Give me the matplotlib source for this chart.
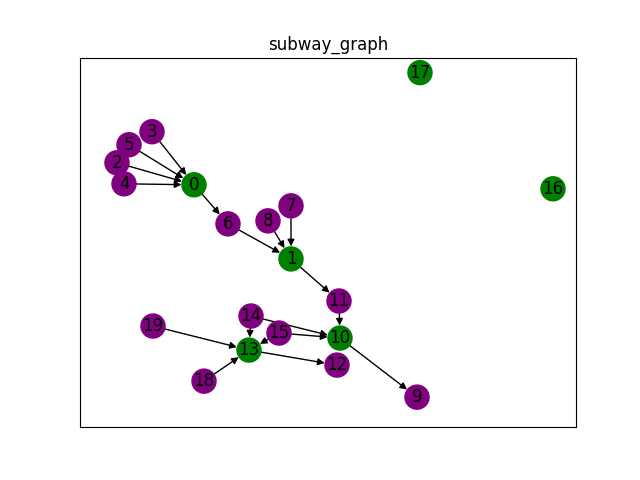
import matplotlib
matplotlib.use('Agg')
import matplotlib.pyplot as plt

# layout of the nodes (x, y)
pos = {
    0: (194, -185), 1: (291, -259), 2: (117, -163), 3: (152, -132),
    4: (124, -184), 5: (129, -145), 6: (228, -224), 7: (291, -206),
    8: (268, -221), 9: (417, -397), 10: (340, -338), 11: (339, -301),
    12: (337, -365), 13: (249, -350), 14: (251, -316), 15: (279, -333),
    16: (553, -189), 17: (420, -73), 18: (204, -381), 19: (153, -326),
}
edges = [(3, 0), (5, 0), (2, 0), (4, 0), (0, 6), (6, 1), (7, 1), (8, 1),
         (1, 11), (11, 10), (10, 9), (14, 10), (15, 10), (14, 13), (15, 13),
         (19, 13), (18, 13), (13, 12)]
stations = [0, 1, 10, 13, 16, 17]

fig, ax = plt.subplots(figsize=(6.4, 4.8), dpi=100)

for u, v in edges:
    ax.annotate("", xy=pos[v], xytext=pos[u],
                arrowprops=dict(arrowstyle="-|>", color="black", lw=1,
                                mutation_scale=10, shrinkA=9, shrinkB=9),
                zorder=1)

nodes = list(pos)
colors = ["green" if n in stations else "purple" for n in nodes]
ax.scatter([pos[n][0] for n in nodes], [pos[n][1] for n in nodes],
           s=300, c=colors, zorder=2)
for n in nodes:
    ax.text(pos[n][0], pos[n][1], str(n), ha="center", va="center",
            fontsize=12, zorder=3)

ax.set_xlim(80, 576)
ax.set_ylim(-427, -58)
ax.set_xticks([])
ax.set_yticks([])
ax.set_title("subway_graph")
fig.savefig("out.png")
